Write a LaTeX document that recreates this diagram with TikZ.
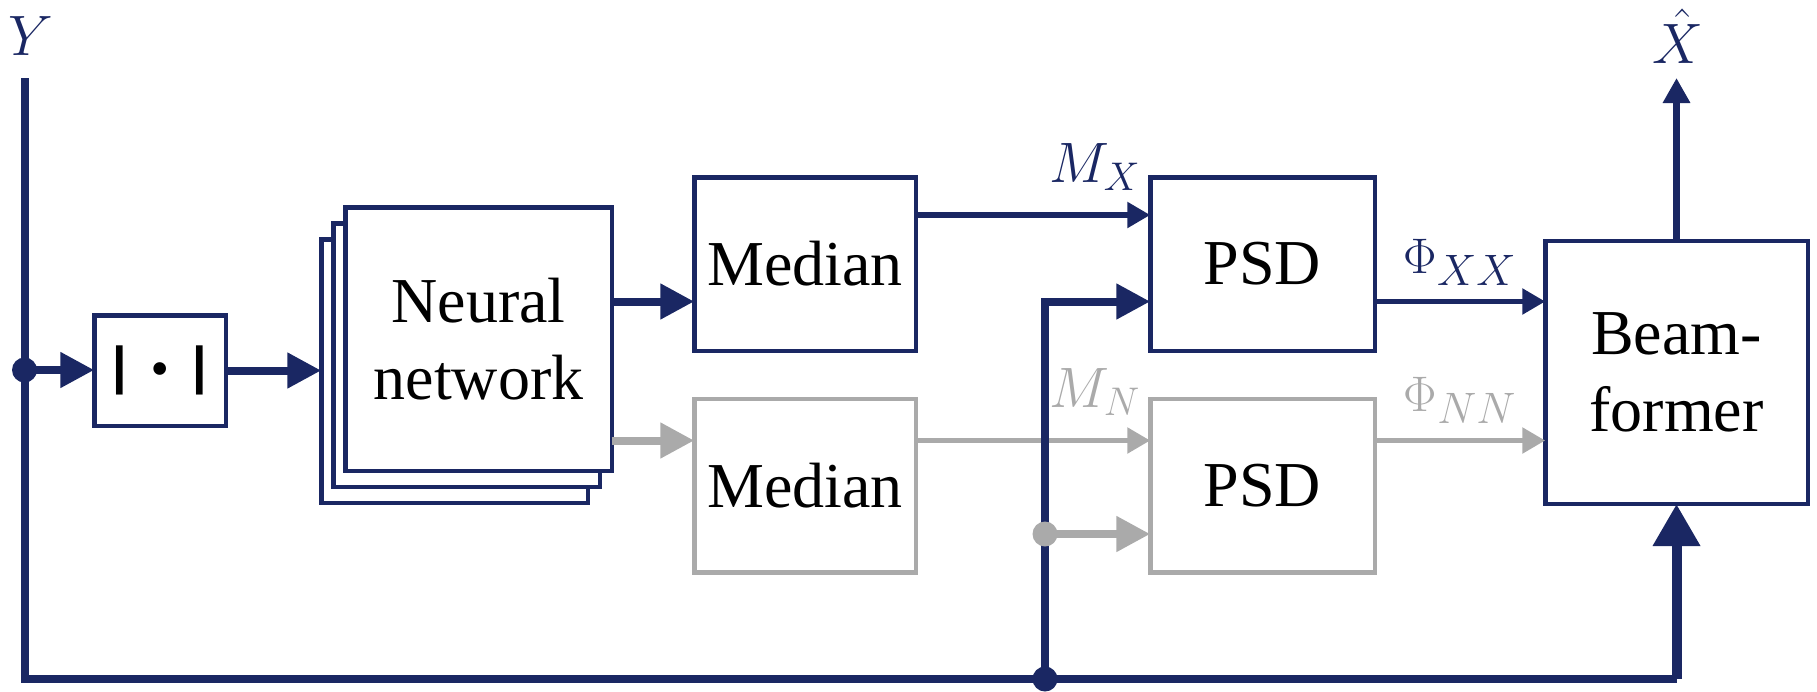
\RequirePackage{fix-cm}
\documentclass[tikz,border=0pt]{standalone}
\usepackage{fontspec}
\setmainfont{Liberation Serif}
\newfontfamily\barfont{Liberation Sans}
\usetikzlibrary{arrows.meta}
\DeclareMathSizes{57}{57}{40}{28}
\DeclareMathSizes{50}{50}{44}{30}
\definecolor{navy}{RGB}{26,39,99}
\definecolor{mute}{RGB}{170,170,170}
\newcommand\boxtext{\fontsize{64}{77}\selectfont}
\newcommand\labtext{\fontsize{57}{57}\selectfont}
\newcommand\phitext{\fontsize{50}{50}\selectfont}

\begin{document}
\begin{tikzpicture}[x=1pt, y=-1pt,
  box/.style={draw=navy, line width=4.5pt, fill=white, inner sep=0pt, outer sep=0pt,
              align=center, font=\boxtext},
  mutebox/.style={box, draw=mute},
  conn/.style={line width=5.5pt, -{Triangle[length=23pt,width=25pt]}},
  boldconn/.style={line width=8pt, -{Triangle[length=34pt,width=34pt]}},
  lab/.style={anchor=base, inner sep=0pt, text=navy, font=\labtext},
  mutelab/.style={lab, text=mute}]

\useasboundingbox (0,0) rectangle (1817,691);

% signal rows
\coordinate (rowA) at (0,215);
\coordinate (rowB) at (0,301.5);
\coordinate (rowC) at (0,440.5);
\coordinate (rowE) at (0,679);

% blocks
\node[box, minimum width=131.5pt, minimum height=110.5pt] (abs) at (160,370.5)
  {\barfont\bfseries\fontsize{52}{52}\selectfont |\hspace{25pt}{\fontsize{44}{44}\selectfont •}\hspace{25pt}|};
\node[box, minimum width=266.5pt, minimum height=263.5pt] (nnback) at (454.5,371) {};
\node[box, minimum width=266.5pt, minimum height=263.5pt] (nnmid) at (466.5,355) {};
\node[box, minimum width=266.5pt, minimum height=263.5pt] (nn) at (478.5,339) {Neural\\network};
\node[box, minimum width=221.5pt, minimum height=173.5pt] (medx) at (805,264) {Median};
\node[mutebox, minimum width=221.5pt, minimum height=173.5pt] (medn) at (805,485.5) {Median};
\node[box, minimum width=224.5pt, minimum height=173.5pt] (psdx) at (1262.5,264) {PSD};
\node[mutebox, minimum width=224.5pt, minimum height=173.5pt] (psdn) at (1262.5,485.5) {PSD};
\node[box, minimum width=262.5pt, minimum height=263pt] (bf) at (1676.5,372.5) {Beam-\\former};

% input line, junctions and output end
\coordinate (ytop) at (24.5,78);
\coordinate (j1) at (24.5,370);
\coordinate (bl) at (24.5,679);
\coordinate (br) at (bf.south |- rowE);
\coordinate (j2) at (1045,679);
\coordinate (j3) at (1045,534);
\coordinate (xtop) at (bf.north |- {(0,78)});

% noise branch (grey)
\draw[mute, boldconn] (nn.east |- rowC) -- (medn.west |- rowC);
\draw[mute, conn] (medn.east |- rowC) -- (psdn.west |- rowC);
\draw[mute, conn] (psdn.east |- rowC) -- (bf.west |- rowC);

% speech branch and mixture paths
\draw[navy, line width=8pt, line join=miter] (ytop) -- (bl) -- (br);
\draw[navy, line width=10pt, -{Triangle[length=42pt,width=45pt]}] (br) -- (bf.south);
\draw[navy, boldconn] (j1) -- (j1 -| abs.west);
\draw[navy, boldconn] (abs.east) -- (abs.east -| nnback.west);
\draw[navy, boldconn] (nn.east |- rowB) -- (medx.west |- rowB);
\draw[navy, conn] (medx.east |- rowA) -- (psdx.west |- rowA);
\draw[navy, conn] (psdx.east |- rowB) -- (bf.west |- rowB);
\draw[navy, boldconn, line join=miter] (j2) |- (psdx.west |- rowB);
\draw[navy, line width=6.5pt, -{Triangle[length=25pt,width=26pt]}] (bf.north) -- (xtop);
\fill[navy] (j1) circle (12.5pt);
\fill[navy] (j2) circle (12.5pt);

% mixture into the noise PSD
\draw[mute, boldconn] (j3) -- (psdn.west |- j3);
\fill[mute] (j3) circle (12.5pt);

% signal labels
\node[lab] (ylab) at (31,55) {$Y$};
\node[lab] (xhat) at (1678,63) {$\hat{X}$};
\node[lab] (mx) at (1095,182) {$M_X$};
\node[mutelab] (mn) at (1095,407) {$M_N$};
\node[lab, font=\phitext] (pxx) at (1460,273) {$\Phi_{XX}$};
\node[mutelab, font=\phitext] (pnn) at (1460,411) {$\Phi_{NN}$};
\end{tikzpicture}
\end{document}
